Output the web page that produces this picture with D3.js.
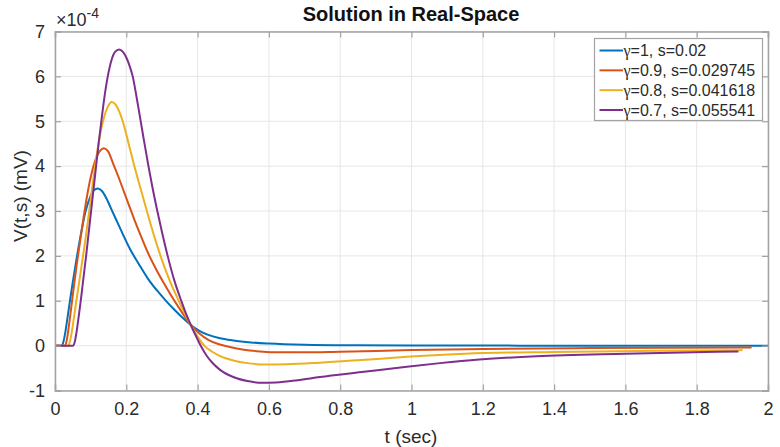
<!DOCTYPE html>
<html>
<head>
<meta charset="utf-8">
<script src="https://cdn.jsdelivr.net/npm/d3@7"></script>
<style>
  html, body { margin: 0; padding: 0; background: #fff; }
  svg { display: block; font-family: "Liberation Sans", Arial, Helvetica, sans-serif; }
</style>
</head>
<body>
<svg id="chart" width="780" height="447"></svg>
<script>
// Voltage V(t,s) in units of 1e-4 mV, sampled along t (sec)
const tG10 = [0, 0.019, 0.024, 0.029, 0.035, 0.042, 0.050, 0.061, 0.073, 0.086, 0.098, 0.109, 0.120, 0.131, 0.143, 0.157, 0.172, 0.187, 0.210, 0.238, 0.260, 0.285, 0.310, 0.335, 0.358, 0.381, 0.405, 0.430, 0.460, 0.500, 0.550, 0.600, 0.700, 0.850, 1.000, 1.300, 2.000];
const vG10 = [0, 0, 0.1, 0.3, 0.62, 1.0, 1.42, 1.96, 2.5, 3.0, 3.3, 3.46, 3.5, 3.45, 3.3, 3.06, 2.8, 2.54, 2.16, 1.78, 1.5, 1.24, 1.01, 0.8, 0.62, 0.46, 0.33, 0.24, 0.17, 0.115, 0.072, 0.047, 0.02, 0.006, 0.001, 0, 0];

const tG09 = [0, 0.028, 0.033, 0.038, 0.044, 0.051, 0.060, 0.070, 0.081, 0.092, 0.103, 0.114, 0.125, 0.137, 0.149, 0.162, 0.177, 0.192, 0.206, 0.222, 0.238, 0.260, 0.285, 0.310, 0.335, 0.358, 0.381, 0.405, 0.430, 0.460, 0.490, 0.530, 0.575, 0.630, 0.700, 0.800, 0.900, 1.000, 1.200, 1.500, 1.954];
const vG09 = [0, 0, 0.12, 0.38, 0.75, 1.2, 1.75, 2.3, 2.9, 3.43, 3.85, 4.15, 4.33, 4.4, 4.33, 4.08, 3.78, 3.46, 3.16, 2.82, 2.5, 2.08, 1.68, 1.33, 1.0, 0.72, 0.46, 0.27, 0.13, 0.03, -0.03, -0.09, -0.13, -0.15, -0.15, -0.135, -0.12, -0.1, -0.075, -0.055, -0.04];

const tG08 = [0, 0.037, 0.042, 0.047, 0.053, 0.059, 0.069, 0.079, 0.088, 0.096, 0.104, 0.112, 0.120, 0.129, 0.138, 0.148, 0.159, 0.170, 0.180, 0.190, 0.205, 0.222, 0.240, 0.257, 0.276, 0.296, 0.320, 0.347, 0.365, 0.381, 0.400, 0.420, 0.440, 0.465, 0.500, 0.540, 0.590, 0.650, 0.743, 0.860, 0.987, 1.150, 1.400, 1.700, 1.929];
const vG08 = [0, 0, 0.1, 0.3, 0.62, 0.95, 1.48, 2.02, 2.52, 3.0, 3.5, 3.98, 4.4, 4.8, 5.1, 5.32, 5.43, 5.37, 5.22, 5.0, 4.55, 4.02, 3.5, 3.02, 2.5, 2.0, 1.48, 1.0, 0.7, 0.46, 0.2, -0.01, -0.13, -0.24, -0.33, -0.39, -0.42, -0.415, -0.38, -0.32, -0.25, -0.18, -0.14, -0.115, -0.1];

const tG07 = [0, 0.051, 0.056, 0.061, 0.066, 0.073, 0.080, 0.088, 0.095, 0.102, 0.109, 0.116, 0.123, 0.130, 0.138, 0.148, 0.158, 0.169, 0.180, 0.190, 0.200, 0.209, 0.218, 0.229, 0.240, 0.250, 0.261, 0.273, 0.287, 0.301, 0.316, 0.334, 0.355, 0.368, 0.381, 0.395, 0.410, 0.425, 0.440, 0.463, 0.500, 0.540, 0.580, 0.620, 0.680, 0.743, 0.860, 0.987, 1.080, 1.190, 1.350, 1.600, 1.917];
const vG07 = [0, 0, 0.1, 0.33, 0.62, 1.05, 1.52, 2.05, 2.55, 3.05, 3.55, 4.05, 4.55, 5.0, 5.5, 6.0, 6.35, 6.55, 6.6, 6.55, 6.42, 6.24, 6.0, 5.53, 5.02, 4.55, 4.05, 3.54, 3.0, 2.5, 2.0, 1.47, 0.98, 0.7, 0.46, 0.22, -0.02, -0.22, -0.37, -0.54, -0.7, -0.79, -0.83, -0.82, -0.77, -0.7, -0.59, -0.47, -0.39, -0.31, -0.235, -0.18, -0.13];

const seriesLabels = ["γ=1, s=0.02", "γ=0.9, s=0.029745", "γ=0.8, s=0.041618", "γ=0.7, s=0.055541"];
const seriesColors = ["#0072BD", "#D95319", "#EDB120", "#7E2F8E"];
const xTicks = [0, 0.2, 0.4, 0.6, 0.8, 1, 1.2, 1.4, 1.6, 1.8, 2];
const yTicks = [-1, 0, 1, 2, 3, 4, 5, 6, 7];

const seriesT = [tG10, tG09, tG08, tG07];
const seriesV = [vG10, vG09, vG08, vG07];

const svg = d3.select("#chart");
const plotL = 55, plotR = 768, plotT = 31.5, plotB = 390.5;

const x = d3.scaleLinear().domain([0, 2]).range([plotL, plotR]);
const y = d3.scaleLinear().domain([-1, 7]).range([plotB, plotT]);

const axisColor = "#a3a3a3";
const textColor = "#2b2b2b";

// grid
const grid = svg.append("g");
grid.selectAll("line.gx").data(xTicks).join("line").attr("class", "gx")
  .attr("x1", d => x(d)).attr("x2", d => x(d))
  .attr("y1", plotT).attr("y2", plotB)
  .attr("stroke", "#e6e6e6").attr("stroke-width", 1);
grid.selectAll("line.gy").data(yTicks).join("line").attr("class", "gy")
  .attr("x1", plotL).attr("x2", plotR)
  .attr("y1", d => y(d)).attr("y2", d => y(d))
  .attr("stroke", "#e6e6e6").attr("stroke-width", 1);

// data lines
const line = d3.line()
  .x(d => x(d[0]))
  .y(d => y(d[1]))
  .curve(d3.curveMonotoneX);

const plot = svg.append("g");
seriesT.forEach((ts, i) => {
  const pts = ts.map((t, k) => [t, seriesV[i][k]]);
  plot.append("path")
    .attr("d", line(pts))
    .attr("fill", "none")
    .attr("stroke", seriesColors[i])
    .attr("stroke-width", 2)
    .attr("stroke-linejoin", "round");
});

// axes: bottom/left with labels, top/right ticks only, inward ticks
const tickLen = 6;
const axB = d3.axisBottom(x).tickValues(xTicks).tickSize(-tickLen).tickPadding(12).tickFormat(d3.format("~g"));
const axT = d3.axisTop(x).tickValues(xTicks).tickSize(-tickLen).tickFormat("");
const axL = d3.axisLeft(y).tickValues(yTicks).tickSize(-tickLen).tickPadding(10).tickFormat(d => d < 0 ? "-" + Math.abs(d) : String(d));
const axR = d3.axisRight(y).tickValues(yTicks).tickSize(-tickLen).tickFormat("");

function styleAxis(g) {
  g.select(".domain").attr("stroke", axisColor).attr("stroke-width", 1.5);
  g.selectAll(".tick line").attr("stroke", axisColor).attr("stroke-width", 1.2);
  g.selectAll(".tick text").attr("fill", textColor).style("font-size", "18px")
    .style("font-family", "'Liberation Sans', Arial, sans-serif");
}

svg.append("g").attr("transform", `translate(0,${plotB})`).call(axB).call(styleAxis);
svg.append("g").attr("transform", `translate(0,${plotT})`).call(axT).call(styleAxis);
svg.append("g").attr("transform", `translate(${plotL},0)`).call(axL).call(styleAxis);
svg.append("g").attr("transform", `translate(${plotR},0)`).call(axR).call(styleAxis);

// exponent marker
const ex = svg.append("text").attr("x", 56).attr("y", 26).attr("fill", textColor)
  .style("font-size", "18px");
ex.append("tspan").text("×10");
ex.append("tspan").attr("dy", -8).style("font-size", "14px").text("-4");

// title & axis labels
svg.append("text").attr("x", 411).attr("y", 21).attr("text-anchor", "middle")
  .attr("fill", "#111").style("font-size", "20px").style("font-weight", "bold")
  .text("Solution in Real-Space");
svg.append("text").attr("x", 411).attr("y", 443).attr("text-anchor", "middle")
  .attr("fill", textColor).style("font-size", "19px").text("t (sec)");
svg.append("text").attr("transform", "translate(27,196) rotate(-90)").attr("text-anchor", "middle")
  .attr("fill", textColor).style("font-size", "19px").text("V(t,s) (mV)");

// legend
const lg = svg.append("g");
const lgX = 594.5, lgY = 38.5, lgW = 168, lgH = 82;
lg.append("rect").attr("x", lgX).attr("y", lgY).attr("width", lgW).attr("height", lgH)
  .attr("fill", "#fff").attr("stroke", "#a3a3a3").attr("stroke-width", 1.2);
const rowY = d3.scaleLinear().domain([0, 3]).range([50.5, 110]);
seriesLabels.forEach((lab, i) => {
  const ry = rowY(i);
  lg.append("line").attr("x1", 599.5).attr("x2", 623).attr("y1", ry).attr("y2", ry)
    .attr("stroke", seriesColors[i]).attr("stroke-width", 2);
  const tx = lg.append("text").attr("x", 623.5).attr("y", ry).attr("dy", "0.35em")
    .attr("fill", textColor).style("font-size", "16px");
  tx.append("tspan").style("font-family", "'Liberation Serif', 'DejaVu Serif', serif").text(lab.slice(0, 1));
  tx.append("tspan").text(lab.slice(1));
});
</script>
</body>
</html>
